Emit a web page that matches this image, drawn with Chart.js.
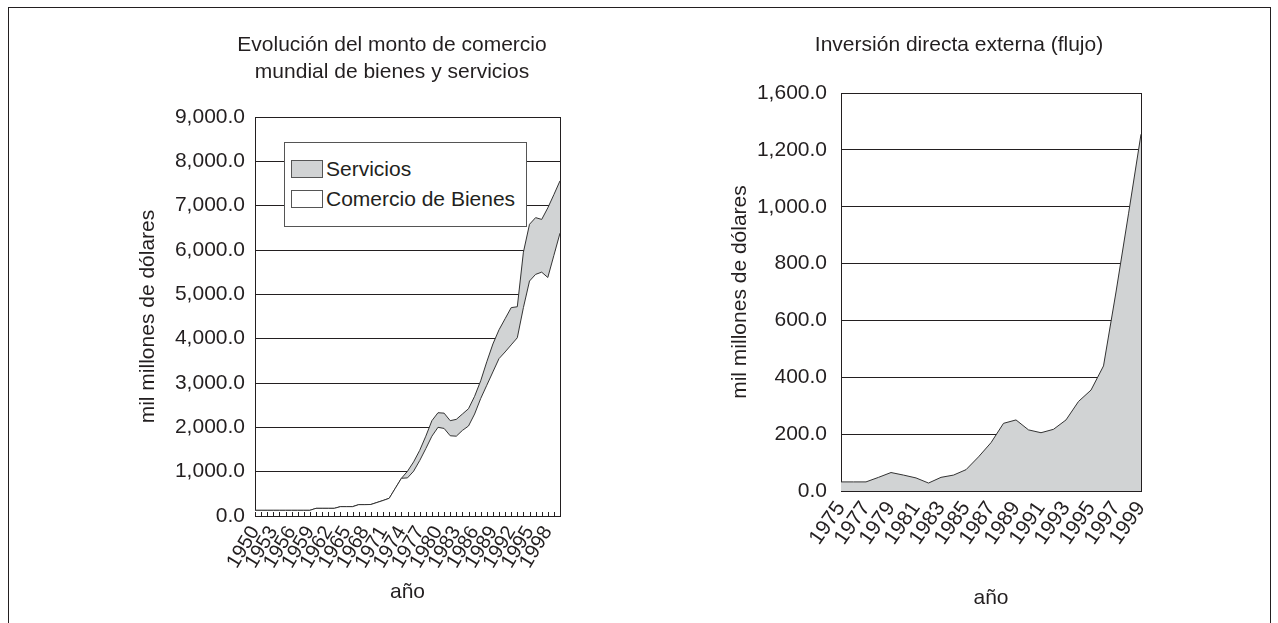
<!DOCTYPE html>
<html><head><meta charset="utf-8">
<script src="https://cdn.jsdelivr.net/npm/chart.js@4.4.1/dist/chart.umd.min.js"></script>
<style>
html,body{margin:0;padding:0;background:#fff;width:1278px;height:623px;overflow:hidden;font-family:'Liberation Sans',Arial,sans-serif;color:#231f20}
#frame{position:absolute;left:8px;top:7px;width:1263px;height:640px;border:1px solid #231f20;border-bottom:none;box-sizing:border-box}
#c1{position:absolute;left:0;top:0}
#c2{position:absolute;left:680px;top:0}
#legend{position:absolute;left:284px;top:142px;width:243px;height:85px;border:1px solid #555;background:#fff;box-sizing:border-box}
.sw{position:absolute;left:6px;width:32px;height:18px;border:1px solid #555;box-sizing:border-box}
.lt{position:absolute;left:41px;font-size:21px;line-height:21px;white-space:nowrap;color:#231f20}
</style></head>
<body>
<div id="frame"></div>
<canvas id="c1" width="669" height="623"></canvas>
<canvas id="c2" width="560" height="623"></canvas>
<div id="legend">
  <div class="sw" style="top:17px;background:#d1d3d4"></div><div class="lt" style="top:15px">Servicios</div>
  <div class="sw" style="top:47px;background:#fff"></div><div class="lt" style="top:45px">Comercio de Bienes</div>
</div>
<script>
// ---- data: world trade (goods + services), thousand million dollars ----
const tradeYears = ['1950','1951','1952','1953','1954','1955','1956','1957','1958','1959',
  '1960','1961','1962','1963','1964','1965','1966','1967','1968','1969',
  '1970','1971','1972','1973','1974','1975','1976','1977','1978','1979',
  '1980','1981','1982','1983','1984','1985','1986','1987','1988','1989',
  '1990','1991','1992','1993','1994','1995','1996','1997','1998','1999','2000'];
const goods = [128,128,128,128,128,128,128,128,128,128,
  173,173,173,173,211,211,211,256,256,260,
  305,350,399,625,850,860,1010,1250,1520,1800,
  2000,1975,1810,1800,1930,2030,2300,2650,2950,3250,
  3550,3700,3860,4020,4700,5300,5450,5500,5380,5880,6380];
const services = [0,0,0,0,0,0,0,0,0,0,
  0,0,0,0,0,0,0,0,0,0,
  0,0,0,0,0,150,210,230,280,350,
  330,345,340,380,370,390,400,400,530,630,
  650,750,840,700,1250,1280,1280,1190,1570,1370,1180];
const tradeTickLabels = ['0.0','1,000.0','2,000.0','3,000.0','4,000.0','5,000.0','6,000.0','7,000.0','8,000.0','9,000.0'];

// ---- data: foreign direct investment (flow) ----
const fdiYears = ['1975','1976','1977','1978','1979','1980','1981','1982','1983','1984',
  '1985','1986','1987','1988','1989','1990','1991','1992','1993','1994',
  '1995','1996','1997','1998','1999'];
const fdi = [32,32,32,48,65,56,46,28,48,56,
  75,120,170,238,250,215,205,217,250,315,
  355,440,700,975,1255];
const fdiTickLabels = ['0.0','200.0','400.0','600.0','800.0','1,000.0','1,200.0','1,600.0'];

const INK = '#231f20', LINE = '#333333', GRAY = '#d1d3d4';
Chart.defaults.font.family = "'Liberation Sans', Arial, sans-serif";
Chart.defaults.color = INK;
Chart.defaults.animation = false;

const innerTicks = {
  id: 'innerTicks',
  afterDatasetsDraw(chart) {
    const xs = chart.scales.x, ctx = chart.ctx, b = chart.chartArea.bottom;
    ctx.save(); ctx.strokeStyle = INK; ctx.lineWidth = 1; ctx.beginPath();
    for (let i = 0; i < xs.ticks.length; i++) {
      const px = Math.round(xs.getPixelForTick(i)) + 0.5;
      ctx.moveTo(px, b); ctx.lineTo(px, b - 4);
    }
    ctx.stroke(); ctx.restore();
  }
};

new Chart(document.getElementById('c1'), {
  type: 'line',
  data: {
    labels: tradeYears,
    datasets: [
      { label: 'Comercio de Bienes', data: goods, fill: 'origin', backgroundColor: '#ffffff',
        borderColor: LINE, borderWidth: 1, pointRadius: 0, tension: 0 },
      { label: 'Servicios', data: services, fill: '-1', backgroundColor: GRAY,
        borderColor: LINE, borderWidth: 1, pointRadius: 0, tension: 0 }
    ]
  },
  options: {
    responsive: false,
    layout: { padding: { left: 115, right: 0, top: 0, bottom: 0 } },
    plugins: {
      legend: { display: false },
      tooltip: { enabled: false },
      title: { display: true, text: ['Evolución del monto de comercio', 'mundial de bienes y servicios'],
        font: { size: 21, weight: 'normal', lineHeight: 27/21 }, color: INK, padding: { top: 31.5, bottom: 31.5 } }
    },
    scales: {
      y: { stacked: true, min: 0, max: 9000,
        ticks: { stepSize: 1000, padding: 10, font: { size: 21 }, color: INK,
          callback: (v, i) => tradeTickLabels[i] },
        grid: { color: INK, lineWidth: 1, drawTicks: false },
        border: { display: true, color: INK },
        title: { display: true, text: 'mil millones de dólares', font: { size: 21 }, color: INK, padding: { top: 20.4, bottom: 0 } },
        afterFit(s) { s.width = 140; } },
      yR: { position: 'right', display: true, min: 0, max: 1,
        grid: { display: false, drawTicks: false }, ticks: { display: false },
        border: { display: true, color: INK },
        afterFit(s) { s.width = 109; } },
      x: { offset: false,
        ticks: { autoSkip: false, maxRotation: 59, minRotation: 59, padding: 6, font: { size: 20 }, color: INK,
          callback: (v, i) => (i % 3 === 0 ? tradeYears[i] : '') },
        grid: { display: false, drawTicks: false },
        border: { display: true, color: INK },
        title: { display: true, text: 'año', font: { size: 21 }, color: INK, padding: { top: 0, bottom: 18.4 } },
        afterFit(s) { s.height = 107; } }
    }
  },
  plugins: [innerTicks]
});

new Chart(document.getElementById('c2'), {
  type: 'line',
  data: {
    labels: fdiYears,
    datasets: [
      { label: 'Inversión directa externa', data: fdi, fill: 'origin', backgroundColor: GRAY,
        borderColor: LINE, borderWidth: 1, pointRadius: 0, tension: 0 }
    ]
  },
  options: {
    responsive: false,
    layout: { padding: { left: 20, right: 22, top: 0, bottom: 0 } },
    plugins: {
      legend: { display: false },
      tooltip: { enabled: false },
      title: { display: true, text: 'Inversión directa externa (flujo)',
        font: { size: 21, weight: 'normal', lineHeight: 27/21 }, color: INK, padding: { top: 31.5, bottom: 34.5 } }
    },
    scales: {
      y: { min: 0, max: 1400,
        ticks: { stepSize: 200, padding: 14, font: { size: 21 }, color: INK,
          callback: (v, i) => fdiTickLabels[i] },
        grid: { color: INK, lineWidth: 1, drawTicks: false },
        border: { display: true, color: INK },
        title: { display: true, text: 'mil millones de dólares', font: { size: 21 }, color: INK, padding: { top: 27.4, bottom: 0 } },
        afterFit(s) { s.width = 141; } },
      yR: { position: 'right', display: true, min: 0, max: 1,
        grid: { display: false, drawTicks: false }, ticks: { display: false },
        border: { display: true, color: INK },
        afterFit(s) { s.width = 77; } },
      x: { offset: false,
        ticks: { autoSkip: false, maxRotation: 55, minRotation: 55, padding: 6, font: { size: 21 }, color: INK,
          callback: (v, i) => (i % 2 === 0 ? fdiYears[i] : '') },
        grid: { display: false, drawTicks: false },
        border: { display: true, color: INK },
        title: { display: true, text: 'año', font: { size: 21 }, color: INK, padding: { top: 0, bottom: 12.4 } },
        afterFit(s) { s.height = 132; } }
    }
  }
});
</script>
</body></html>
